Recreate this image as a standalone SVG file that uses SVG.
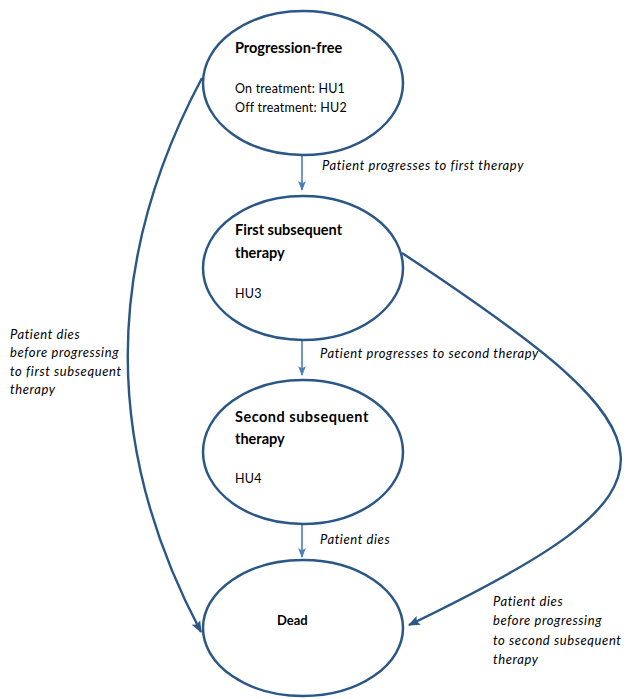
<svg xmlns="http://www.w3.org/2000/svg" width="627" height="699" viewBox="0 0 627 699">
<style>
  .node ellipse { fill: #ffffff; stroke: #2a5786; stroke-width: 2.5; }
  .title { font-family: Lato, "Liberation Sans", sans-serif; font-weight: bold; font-size: 14.5px; fill: #000; }
  .sub { font-family: Lato, "Liberation Sans", sans-serif; font-size: 12.5px; letter-spacing: 0.2px; fill: #000; }
  .lbl { font-family: Lato, "Liberation Sans", sans-serif; font-style: italic; font-size: 13px; letter-spacing: 0.6px; fill: #000; }
  .curve { fill: none; stroke: #2a5786; stroke-width: 2.4; }
  .vert { fill: none; stroke: #4a7ebb; stroke-width: 1.6; }
</style>
<defs>
  <marker id="headDark" viewBox="0 0 10 10" refX="9" refY="5" markerWidth="5" markerHeight="5" orient="auto" markerUnits="strokeWidth">
    <path d="M0,1 L10,5 L0,9 L2,5 Z" fill="#2a5786"/>
  </marker>
  <marker id="headLight" viewBox="0 0 10 10" refX="9" refY="5" markerWidth="6" markerHeight="6" orient="auto" markerUnits="strokeWidth">
    <path d="M0,1 L10,5 L0,9 L2,5 Z" fill="#4a7ebb"/>
  </marker>
</defs>
<rect width="627" height="699" fill="#ffffff"/>

<g id="connectors">
  <line class="vert" x1="302" y1="155" x2="302" y2="190" marker-end="url(#headLight)"/>
  <line class="vert" x1="302" y1="340" x2="302" y2="375" marker-end="url(#headLight)"/>
  <line class="vert" x1="302" y1="524" x2="302" y2="557" marker-end="url(#headLight)"/>
  <path class="curve" d="M202,78 Q54,355 201,632" marker-end="url(#headDark)"/>
  <path class="curve" d="M402,253 C685,440 700,485 409,625" marker-end="url(#headDark)"/>
  <text class="lbl" x="322" y="170">Patient progresses to first therapy</text>
  <text class="lbl" x="320" y="358">Patient progresses to second therapy</text>
  <text class="lbl" x="320" y="544">Patient dies</text>
  <text class="lbl" x="10" y="339">Patient dies</text>
  <text class="lbl" x="10" y="357">before progressing</text>
  <text class="lbl" x="10" y="376">to first subsequent</text>
  <text class="lbl" x="10" y="394">therapy</text>
  <text class="lbl" x="493" y="606">Patient dies</text>
  <text class="lbl" x="493" y="625">before progressing</text>
  <text class="lbl" x="493" y="645">to second subsequent</text>
  <text class="lbl" x="493" y="664">therapy</text>
</g>

<g id="progression-free" class="node">
  <ellipse cx="303" cy="83" rx="100" ry="72"/>
  <text class="title" x="235" y="53">Progression-free</text>
  <text class="sub" x="235" y="93">On treatment: HU1</text>
  <text class="sub" x="235" y="112">Off treatment: HU2</text>
</g>

<g id="first-subsequent" class="node">
  <ellipse cx="303" cy="268" rx="100" ry="72"/>
  <text class="title" x="235" y="235">First subsequent</text>
  <text class="title" x="235" y="258">therapy</text>
  <text class="sub" x="235" y="298">HU3</text>
</g>

<g id="second-subsequent" class="node">
  <ellipse cx="303" cy="452" rx="100" ry="72"/>
  <text class="title" x="235" y="422" style="letter-spacing:0.5px">Second subsequent</text>
  <text class="title" x="235" y="444">therapy</text>
  <text class="sub" x="235" y="483">HU4</text>
</g>

<g id="dead" class="node">
  <ellipse cx="303" cy="628" rx="100" ry="68"/>
  <text class="title" x="277" y="625" style="font-size:13px">Dead</text>
</g>
</svg>
